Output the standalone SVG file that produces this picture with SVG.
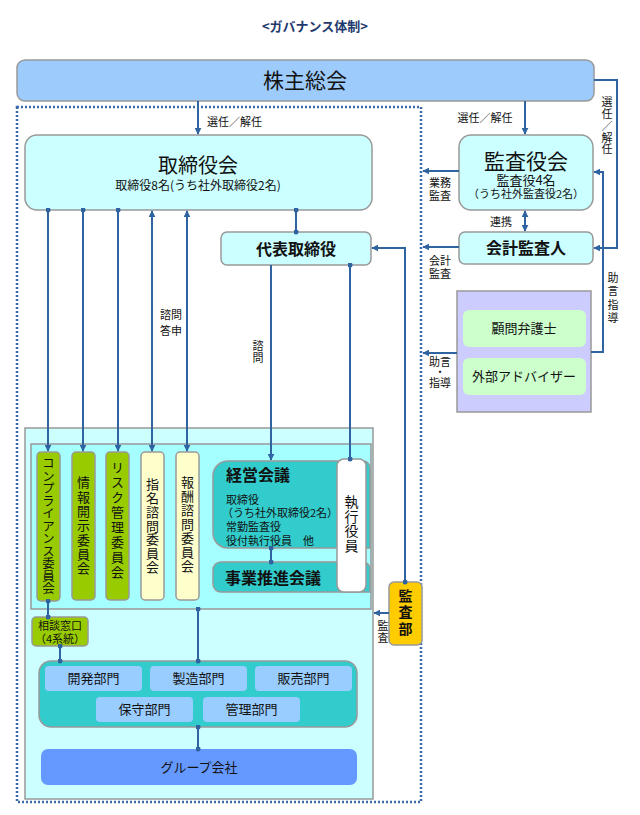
<svg xmlns="http://www.w3.org/2000/svg" width="640" height="815" viewBox="0 0 640 815">
<defs>
<style>
text{font-family:"Noto Sans CJK JP","Noto Sans",sans-serif;fill:#111;}
.box{stroke:#999;stroke-width:1.5;}
.c{text-anchor:middle;}
.b{font-weight:bold;}
.lbl{font-size:11px;}
.v{writing-mode:vertical-rl;text-anchor:middle;}
.con{fill:none;stroke:#2f64a0;stroke-width:2;}
</style>
<marker id="arr" viewBox="0 0 10 10" refX="9" refY="5" markerWidth="7" markerHeight="7" markerUnits="userSpaceOnUse" orient="auto-start-reverse"><path d="M0,0L10,5L0,10z" fill="#2f64a0"/></marker>
<marker id="dot" viewBox="0 0 10 10" refX="5" refY="5" markerWidth="5" markerHeight="5" markerUnits="userSpaceOnUse"><circle cx="5" cy="5" r="5" fill="#2f64a0"/></marker>
</defs>
<rect width="640" height="815" fill="#fff"/>
<text x="315" y="31" class="c b" font-size="13" style="fill:#1f3a6e">&lt;ガバナンス体制&gt;</text>

<rect x="17" y="107" width="404" height="695" fill="none" stroke="#3a6aa8" stroke-width="2.5" stroke-dasharray="2 2"/>

<g id="shareholders"><rect class="box" x="17" y="60" width="577" height="41" rx="8" fill="#9dcbfb"/><text x="305" y="88" class="c" font-size="21">株主総会</text></g>

<g id="board"><rect class="box" x="25" y="135" width="347" height="75" rx="12" fill="#ccffff"/><text x="198" y="173" class="c" font-size="20">取締役会</text><text x="198" y="190" class="c" font-size="12">取締役8名(うち社外取締役2名)</text></g>

<g id="ceo"><rect class="box" x="221" y="232" width="150" height="33" rx="6" fill="#ccffff"/><text x="296" y="255" class="c b" font-size="16">代表取締役</text></g>

<g id="auditboard"><rect class="box" x="459" y="135" width="134" height="75" rx="12" fill="#ccffff"/><text x="526" y="169" class="c" font-size="21">監査役会</text><text x="526" y="185" class="c" font-size="13">監査役4名</text><text x="526" y="198" class="c" font-size="11">（うち社外監査役2名）</text></g>

<g id="accountant"><rect class="box" x="459" y="232" width="134" height="32" rx="6" fill="#ccffff"/><text x="526" y="254" class="c b" font-size="16">会計監査人</text></g>

<g id="advisors"><rect class="box" x="457" y="291" width="134" height="121" fill="#ccccff"/>
<rect x="463" y="310" width="123" height="37" rx="6" fill="#ccffcc"/><text x="524" y="333" class="c" font-size="13">顧問弁護士</text>
<rect x="463" y="358" width="123" height="37" rx="6" fill="#ccffcc"/><text x="524" y="381" class="c" font-size="13">外部アドバイザー</text></g>

<g id="org"><rect class="box" x="25" y="428" width="348" height="371" fill="#ccffff"/><rect class="box" x="31" y="444" width="340" height="165" fill="#a6ffff"/></g>

<g id="compliance"><rect class="box" x="37" y="452" width="23" height="149" rx="4" fill="#99cc00"/><text class="v" x="48.5" y="526" font-size="12.5">コンプライアンス委員会</text></g>

<g id="disclosure"><rect class="box" x="72" y="452" width="23" height="148" rx="4" fill="#99cc00"/><text class="v" x="83.5" y="526" font-size="13" letter-spacing="1.3">情報開示委員会</text></g>

<g id="risk"><rect class="box" x="106" y="452" width="23" height="148" rx="4" fill="#99cc00"/><text class="v" x="117.5" y="521" font-size="13" letter-spacing="2">リスク管理委員会</text></g>

<g id="nomination"><rect class="box" x="141" y="452" width="23" height="148" rx="4" fill="#ffffcc"/><text class="v" x="152.5" y="526" font-size="13" letter-spacing="0.7">指名諮問委員会</text></g>

<g id="remuneration"><rect class="box" x="176" y="452" width="23" height="148" rx="4" fill="#ffffcc"/><text class="v" x="187.5" y="525" font-size="13" letter-spacing="1">報酬諮問委員会</text></g>

<g id="mgmt"><path class="box" d="M228,461H363a7,7 0 0 1 7,7V548H228a15,15 0 0 1 -15,-15V476a15,15 0 0 1 15,-15z" fill="#33cccc"/><text x="226" y="481" class="b" font-size="16">経営会議</text><text font-size="11"><tspan x="226" y="504">取締役</tspan><tspan x="222" y="517">（うち社外取締役2名）</tspan><tspan x="226" y="531">常勤監査役</tspan><tspan x="226" y="545">役付執行役員　他</tspan></text></g>

<g id="business"><path class="box" d="M221,562H363a7,7 0 0 1 7,7V592H221a8,8 0 0 1 -8,-8V570a8,8 0 0 1 8,-8z" fill="#33cccc"/><text x="225" y="584" class="b" font-size="16">事業推進会議</text></g>

<g id="officers"><rect class="box" x="337" y="459" width="29" height="133" rx="7" fill="#fff"/><text class="v" x="351.5" y="524" font-size="14" letter-spacing="0.5">執行役員</text></g>

<g id="auditdept"><rect class="box" x="389" y="582" width="33" height="63" rx="5" fill="#ffcc00"/><text class="v b" x="405.5" y="613" font-size="14" letter-spacing="2.5">監査部</text></g>

<g id="hotline"><rect class="box" x="32" y="617" width="56" height="29" rx="4" fill="#99cc00"/><text class="c" font-size="11"><tspan x="60" y="630">相談窓口</tspan><tspan x="60" y="643">（4系統）</tspan></text></g>

<g id="depts"><rect class="box" x="39" y="661" width="318" height="66" rx="12" fill="#33cccc"/>
<rect x="45" y="666" width="97" height="25" rx="4" fill="#99ccff"/><text x="93.5" y="683" class="c" font-size="13">開発部門</text>
<rect x="150" y="666" width="97" height="25" rx="4" fill="#99ccff"/><text x="198.5" y="683" class="c" font-size="13">製造部門</text>
<rect x="255" y="666" width="97" height="25" rx="4" fill="#99ccff"/><text x="303.5" y="683" class="c" font-size="13">販売部門</text>
<rect x="96" y="697" width="97" height="25" rx="4" fill="#99ccff"/><text x="144.5" y="714" class="c" font-size="13">保守部門</text>
<rect x="203" y="697" width="97" height="25" rx="4" fill="#99ccff"/><text x="251.5" y="714" class="c" font-size="13">管理部門</text></g>

<g id="group"><rect x="41" y="749" width="316" height="36" rx="7" fill="#6699ff"/><text x="199" y="772" class="c" font-size="13">グループ会社</text></g>

<g id="connectors">
<path class="con" d="M198,101V134" marker-end="url(#arr)"/>
<path class="con" d="M525,101V134" marker-end="url(#arr)"/>
<path class="con" d="M594,80H617V248H594" marker-end="url(#arr)"/>
<path class="con" d="M591,352H603V172H594" marker-end="url(#arr)"/>
<path class="con" d="M525,211V231" marker-start="url(#arr)" marker-end="url(#arr)"/>
<path class="con" d="M459,171H423" marker-end="url(#arr)"/>
<path class="con" d="M459,247H423" marker-end="url(#arr)"/>
<path class="con" d="M457,353H423" marker-end="url(#arr)"/>
<path class="con" d="M48,210V451" marker-start="url(#dot)" marker-end="url(#arr)"/>
<path class="con" d="M83,210V451" marker-start="url(#dot)" marker-end="url(#arr)"/>
<path class="con" d="M118,210V451" marker-start="url(#dot)" marker-end="url(#arr)"/>
<path class="con" d="M152,211V451" marker-start="url(#arr)" marker-end="url(#arr)"/>
<path class="con" d="M187,211V451" marker-start="url(#arr)" marker-end="url(#arr)"/>
<path class="con" d="M296,210V232" marker-start="url(#dot)" marker-end="url(#dot)"/>
<path class="con" d="M271,265V460" marker-end="url(#arr)"/>
<path class="con" d="M350,265V459" marker-start="url(#dot)" marker-end="url(#dot)"/>
<path class="con" d="M405,582V248H372" marker-start="url(#dot)" marker-end="url(#arr)"/>
<path class="con" d="M389,613H374" marker-end="url(#arr)"/>
<path class="con" d="M271,548V562" marker-start="url(#dot)" marker-end="url(#dot)"/>
<path class="con" d="M48,601V617" marker-start="url(#dot)" marker-end="url(#dot)"/>
<path class="con" d="M60,646V661" marker-start="url(#dot)" marker-end="url(#dot)"/>
<path class="con" d="M198,609V661" marker-start="url(#dot)" marker-end="url(#dot)"/>
<path class="con" d="M198,727V749" marker-start="url(#dot)" marker-end="url(#dot)"/>
</g>

<g id="labels">
<text x="207" y="126" class="lbl">選任／解任</text>
<text x="485" y="122" class="c lbl">選任／解任</text>
<text class="v lbl" x="607" y="126" letter-spacing="0.8">選任／解任</text>
<text class="v lbl" x="613" y="299" letter-spacing="2.3">助言指導</text>
<text class="c lbl"><tspan x="440" y="187">業務</tspan><tspan x="440" y="200">監査</tspan></text>
<text class="c lbl"><tspan x="440" y="265">会計</tspan><tspan x="440" y="278">監査</tspan></text>
<text class="c lbl"><tspan x="440" y="366">助言</tspan><tspan x="440" y="376">・</tspan><tspan x="440" y="387">指導</tspan></text>
<text x="501" y="226" class="c lbl">連携</text>
<text class="c lbl"><tspan x="171" y="319">諮問</tspan><tspan x="171" y="335">答申</tspan></text>
<text class="v lbl" x="258" y="352" letter-spacing="1">諮問</text>
<text class="v lbl" x="383" y="632" letter-spacing="1">監査</text>
</g>
</svg>
